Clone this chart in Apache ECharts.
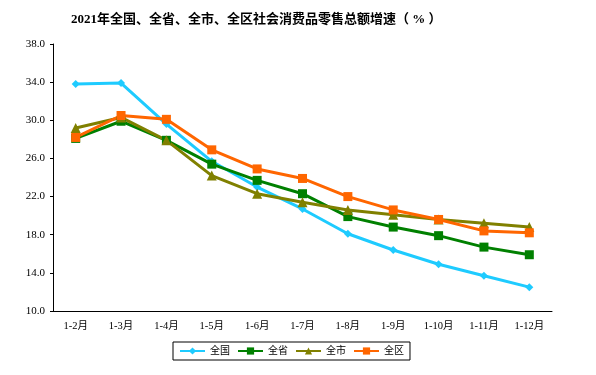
<!DOCTYPE html>
<html>
<head>
<meta charset="utf-8">
<script src="https://cdn.jsdelivr.net/npm/echarts@6/dist/echarts.min.js"></script>
<style>
  html, body { margin: 0; padding: 0; background: #fff; }
  #chart { width: 596px; height: 375px; }
</style>
</head>
<body>
<div id="chart"></div>
<script>
const categories = ['1-2月', '1-3月', '1-4月', '1-5月', '1-6月', '1-7月', '1-8月', '1-9月', '1-10月', '1-11月', '1-12月'];
const national = [33.8, 33.9, 29.6, 25.7, 23.0, 20.7, 18.1, 16.4, 14.9, 13.7, 12.5];
const province = [28.1, 29.9, 27.9, 25.4, 23.7, 22.3, 19.9, 18.8, 17.9, 16.7, 15.9];
const city = [29.2, 30.3, 27.9, 24.2, 22.3, 21.4, 20.6, 20.1, 19.6, 19.2, 18.8];
const district = [28.2, 30.5, 30.1, 26.9, 24.9, 23.9, 22.0, 20.6, 19.6, 18.4, 18.2];
const seriesNames = ['全国', '全省', '全市', '全区'];

const serif = '"Liberation Serif", "Noto Sans CJK SC", serif';

const chart = echarts.init(document.getElementById('chart'), null, { renderer: 'canvas' });

function lineSeries(name, data, color, symbol, size) {
    return {
        name: name,
        type: 'line',
        data: data,
        symbol: symbol,
        symbolSize: size,
        lineStyle: { color: color, width: 3 },
        itemStyle: { color: color },
        animation: false
    };
}

const option = {
    title: {
        text: '2021年全国、全省、全市、全区社会消费品零售总额增速（ % ）',
        left: 66,
        top: 8,
        textStyle: { fontFamily: serif, fontSize: 13, fontWeight: 'bold', color: '#000' }
    },
    grid: { left: 53, right: 44, top: 44, bottom: 64 },
    legend: {
        data: seriesNames,
        left: 173,
        top: 342,
        itemWidth: 25,
        itemHeight: 9,
        itemGap: 7,
        padding: [4, 6, 4, 6],
        borderColor: '#000',
        borderWidth: 1,
        textStyle: { fontFamily: serif, fontSize: 10, color: '#000' }
    },
    xAxis: {
        type: 'category',
        data: categories,
        boundaryGap: true,
        axisLine: { lineStyle: { color: '#000', width: 1 } },
        axisTick: { inside: true, length: 5, lineStyle: { color: '#000' } },
        axisLabel: { fontFamily: serif, fontSize: 10.5, color: '#000', margin: 10 }
    },
    yAxis: {
        type: 'value',
        min: 10,
        max: 38,
        interval: 4,
        axisLine: { show: true, lineStyle: { color: '#000', width: 1 } },
        axisTick: { show: true, length: 3, lineStyle: { color: '#000' } },
        splitLine: { show: false },
        axisLabel: {
            fontFamily: serif, fontSize: 11, color: '#000', margin: 8,
            formatter: v => v.toFixed(1)
        }
    },
    series: [
        lineSeries('全国', national, '#1ECBFF', 'diamond', 8),
        lineSeries('全省', province, '#008000', 'rect', 9),
        lineSeries('全市', city, '#808000', 'triangle', 10),
        lineSeries('全区', district, '#FF6600', 'rect', 9)
    ]
};

chart.setOption(option);
</script>
</body>
</html>
